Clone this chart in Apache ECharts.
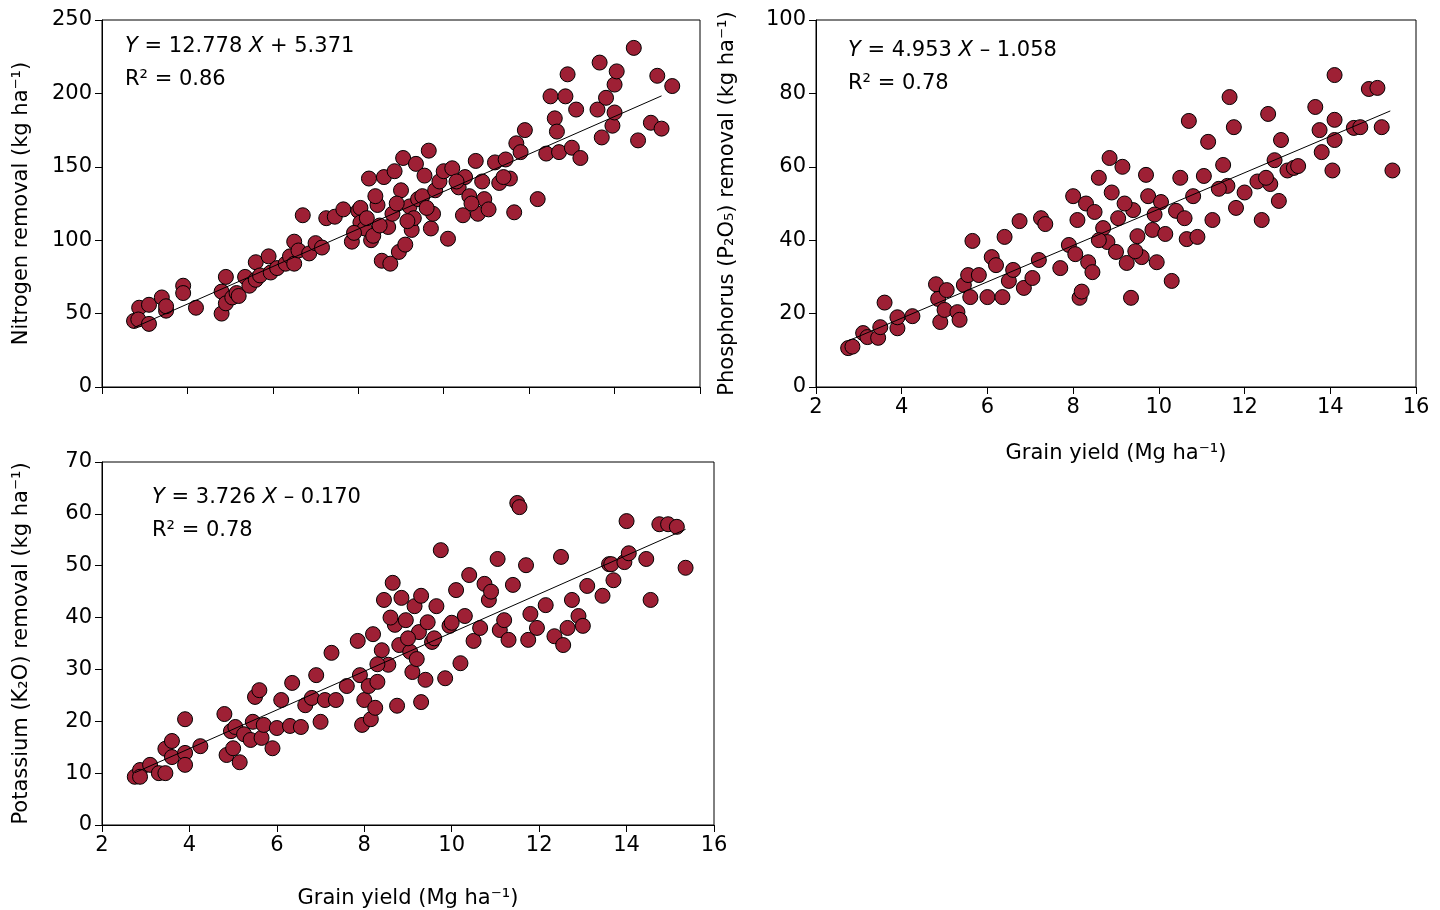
<!DOCTYPE html>
<html><head><meta charset="utf-8">
<script src="https://cdn.jsdelivr.net/npm/echarts@6/dist/echarts.min.js"></script>
<style>html,body{margin:0;background:#fff}#c{width:1440px;height:910px}</style>
</head><body><div id="c"></div>
<script>
const nData=[[2.75,45],[2.87,54],[2.85,46],[3.1,56],[3.1,43],[3.4,61],[3.5,52],[3.5,55],[3.9,69],[3.9,64],[4.2,54],[4.8,65],[4.9,75],[4.8,50],[4.9,57],[5.05,61],[5.15,64],[5.2,62],[5.35,75],[5.45,69],[5.6,85],[5.6,73],[5.7,76],[5.9,89],[5.95,78],[6.1,81],[6.3,84],[6.4,89],[6.5,99],[6.5,84],[6.6,93],[6.7,117],[6.85,91],[7.0,98],[7.15,95],[7.25,115],[7.45,116],[7.65,121],[7.85,99],[8.0,120],[8.05,122],[8.05,112],[8.15,108],[8.25,142],[8.3,100],[8.35,103],[8.45,124],[8.55,86],[8.6,143],[8.7,109],[8.75,84],[8.8,118],[8.85,147],[8.95,92],[9.0,134],[9.05,156],[9.1,97],[9.2,123],[9.25,107],[9.35,152],[9.4,128],[9.5,130],[9.55,144],[9.65,161],[9.7,108],[9.75,118],[9.8,134],[9.9,140],[10.0,147],[10.1,101],[10.2,149],[10.35,136],[10.45,117],[10.5,143],[10.6,130],[10.75,154],[10.8,118],[10.95,128],[11.05,121],[11.2,153],[11.3,139],[11.45,155],[11.55,142],[11.65,119],[11.7,166],[11.8,160],[11.9,175],[12.2,128],[12.4,159],[12.5,198],[12.6,183],[12.65,174],[12.7,160],[12.85,198],[12.9,213],[13.0,163],[13.1,189],[13.2,156],[13.6,189],[13.65,221],[13.7,170],[13.8,197],[13.95,178],[14.0,206],[14.05,215],[14.0,187],[14.45,231],[14.55,168],[14.85,180],[15.0,212],[15.1,176],[15.35,205],[8.2,115],[8.5,110],[8.9,125],[9.3,115],[9.6,122],[10.3,140],[10.9,140],[11.4,143],[8.4,130],[7.9,105],[9.15,113],[10.65,125]];
const pData=[[2.75,10.6],[2.85,11],[3.1,14.7],[3.2,13.6],[3.45,13.4],[3.5,16.3],[3.6,23],[3.9,16],[3.9,19],[4.25,19.3],[4.8,28],[4.85,24],[4.9,17.7],[5.05,26.4],[5.0,21],[5.3,20.4],[5.35,18.3],[5.45,27.8],[5.55,30.5],[5.6,24.5],[5.65,39.8],[5.8,30.5],[6.0,24.5],[6.1,35.4],[6.2,33.2],[6.35,24.5],[6.4,40.9],[6.5,28.9],[6.6,31.9],[6.75,45.2],[6.85,27],[7.05,29.7],[7.2,34.6],[7.25,46],[7.35,44.4],[7.7,32.4],[7.9,38.7],[8.0,52],[8.05,36.2],[8.1,45.5],[8.15,24.3],[8.2,26],[8.3,50],[8.35,34],[8.45,31.3],[8.5,47.7],[8.6,57],[8.7,43.3],[8.8,39.5],[8.85,62.4],[8.9,53],[9.0,36.8],[9.05,46],[9.15,60],[9.25,33.8],[9.35,24.3],[9.4,48.2],[9.5,41.1],[9.6,35.4],[9.7,57.8],[9.75,52],[9.85,42.8],[9.95,34],[10.05,50.4],[10.15,41.7],[10.3,28.9],[10.4,48],[10.5,57],[10.65,40.3],[10.7,72.5],[10.8,52],[10.9,40.9],[11.05,57.5],[11.15,66.8],[11.25,45.5],[11.5,60.5],[11.6,54.8],[11.65,79],[11.75,70.8],[11.8,48.8],[12.0,53],[12.3,56],[12.4,45.5],[12.55,74.4],[12.6,55.3],[12.7,61.8],[12.8,50.7],[12.85,67.3],[13.0,59],[13.15,59.7],[13.25,60.2],[13.65,76.3],[13.75,70],[13.8,64],[14.05,59],[14.1,72.8],[14.1,85],[14.1,67.3],[14.55,70.6],[14.7,70.8],[14.9,81.2],[15.1,81.5],[15.2,70.8],[15.45,59],[9.2,50],[9.9,47],[10.6,46],[11.4,54],[12.5,57],[8.6,40],[9.45,37]];
const kData=[[2.75,9.3],[2.87,10.6],[2.87,9.3],[3.1,11.6],[3.3,10],[3.45,10],[3.45,14.7],[3.6,16.2],[3.6,13.1],[3.9,20.4],[3.9,13.9],[3.9,11.6],[4.25,15.2],[4.8,21.4],[4.85,13.5],[4.95,18.1],[5.0,14.8],[5.05,18.9],[5.15,12.1],[5.25,17.5],[5.4,16.4],[5.45,19.9],[5.5,24.7],[5.6,26],[5.65,16.8],[5.7,19.3],[5.9,14.8],[6.0,18.7],[6.1,24.1],[6.3,19.1],[6.35,27.4],[6.55,18.9],[6.65,23.1],[6.8,24.5],[6.9,28.9],[7.0,19.9],[7.1,24.1],[7.25,33.2],[7.35,24.1],[7.6,26.8],[7.85,35.5],[7.9,28.9],[7.95,19.3],[8.0,24.1],[8.1,26.8],[8.15,20.4],[8.2,36.8],[8.25,22.6],[8.3,27.6],[8.4,33.7],[8.45,43.4],[8.55,30.9],[8.65,46.7],[8.7,38.6],[8.75,23],[8.8,34.7],[8.85,43.8],[8.95,39.5],[9.05,33.4],[9.1,29.5],[9.15,42.2],[9.25,37.2],[9.3,23.7],[9.3,44.2],[9.4,28],[9.45,39.1],[9.55,35.3],[9.65,42.2],[9.75,53],[9.85,28.3],[9.95,38.4],[10.1,45.3],[10.2,31.2],[10.3,40.3],[10.4,48.2],[10.5,35.5],[10.65,38],[10.75,46.5],[10.85,43.4],[11.05,51.3],[11.1,37.6],[11.2,39.5],[11.3,35.7],[11.4,46.3],[11.5,62.1],[11.55,61.3],[11.7,50.1],[11.75,35.7],[11.8,40.7],[11.95,38],[12.15,42.4],[12.35,36.4],[12.5,51.7],[12.55,34.7],[12.65,38],[12.75,43.4],[12.9,40.3],[13.0,38.4],[13.1,46.1],[13.45,44.2],[13.6,50.3],[13.7,47.2],[13.65,50.3],[13.95,50.7],[14.0,58.6],[14.05,52.4],[14.45,51.3],[14.55,43.4],[14.75,58],[14.95,58],[15.15,57.5],[15.35,49.6],[8.6,40],[9.0,36],[9.6,36],[10.0,39],[10.9,45],[8.3,31],[9.2,32]];
const coef=[[12.778,5.371],[4.953,-1.058],[3.726,-0.170]];
const xRange=[[2.75,15.1],[2.75,15.4],[2.75,15.35]];
const eqText=['{i|Y} = 12.778 {i|X} + 5.371\nR² = 0.86','{i|Y} = 4.953 {i|X} – 1.058\nR² = 0.78','{i|Y} = 3.726 {i|X} – 0.170\nR² = 0.78'];
const yNames=['Nitrogen removal (kg ha⁻¹)','Phosphorus (P₂O₅) removal (kg ha⁻¹)','Potassium (K₂O) removal (kg ha⁻¹)'];
const yMax=[250,100,70],yInt=[50,20,10];
const xName='Grain yield (Mg ha⁻¹)';
const F='DejaVu Sans';
const FS=21;
const grids=[{left:102,top:20,width:598,height:367},{left:816,top:20,width:600,height:367},{left:102,top:462,width:612,height:363}];
const lineLines=coef.map((c,i)=>xRange[i].map(x=>[x,c[0]*x+c[1]]));
const ax={lineStyle:{color:'#000',width:1}};
const xAxis=grids.map((g,i)=>({gridIndex:i,type:'value',min:2,max:16,interval:2,axisLine:ax,axisTick:{show:true,inside:false,length:7,lineStyle:{color:'#000'}},splitLine:{show:false},
  axisLabel:{show:i>0,color:'#000',fontSize:FS,fontFamily:F,margin:10},name:i>0?xName:'',nameLocation:'middle',nameGap:i==1?56:63,nameTextStyle:{color:'#000',fontSize:FS,fontFamily:F}}));
const yAxis=grids.map((g,i)=>({gridIndex:i,type:'value',min:0,max:yMax[i],interval:yInt[i],axisLine:ax,axisTick:{show:true,length:7,lineStyle:{color:'#000'}},splitLine:{show:false},
  axisLabel:{color:'#000',fontSize:FS,fontFamily:F,margin:10},name:yNames[i],nameLocation:'middle',nameGap:i==1?78:70,nameTextStyle:{color:'#000',fontSize:FS,fontFamily:F}}));
const datas=[nData,pData,kData];
const series=[];
datas.forEach((d,i)=>{
  series.push({type:'scatter',xAxisIndex:i,yAxisIndex:i,data:d,symbolSize:15,itemStyle:{color:'#9e2035',borderColor:'#000',borderWidth:1,opacity:1},z:3});
  series.push({type:'line',xAxisIndex:i,yAxisIndex:i,data:lineLines[i],symbol:'none',lineStyle:{color:'#000',width:1},z:4,silent:true});
});
const eqPos=[[125,30],[848,34],[152,481]];
const chart=echarts.init(document.getElementById('c'));
chart.setOption({animation:false,
 grid:grids.map(g=>Object.assign({show:true,borderColor:'#000',borderWidth:1,backgroundColor:'transparent'},g)),
 xAxis,yAxis,series,
 graphic:eqText.map((t,i)=>({type:'text',left:eqPos[i][0],top:eqPos[i][1],z:10,style:{text:t,fontSize:FS,fontFamily:F,fill:'#000',lineHeight:33,rich:{i:{fontStyle:'italic',fontSize:FS,fontFamily:F,fill:'#000'}}}}))
});
</script></body></html>
